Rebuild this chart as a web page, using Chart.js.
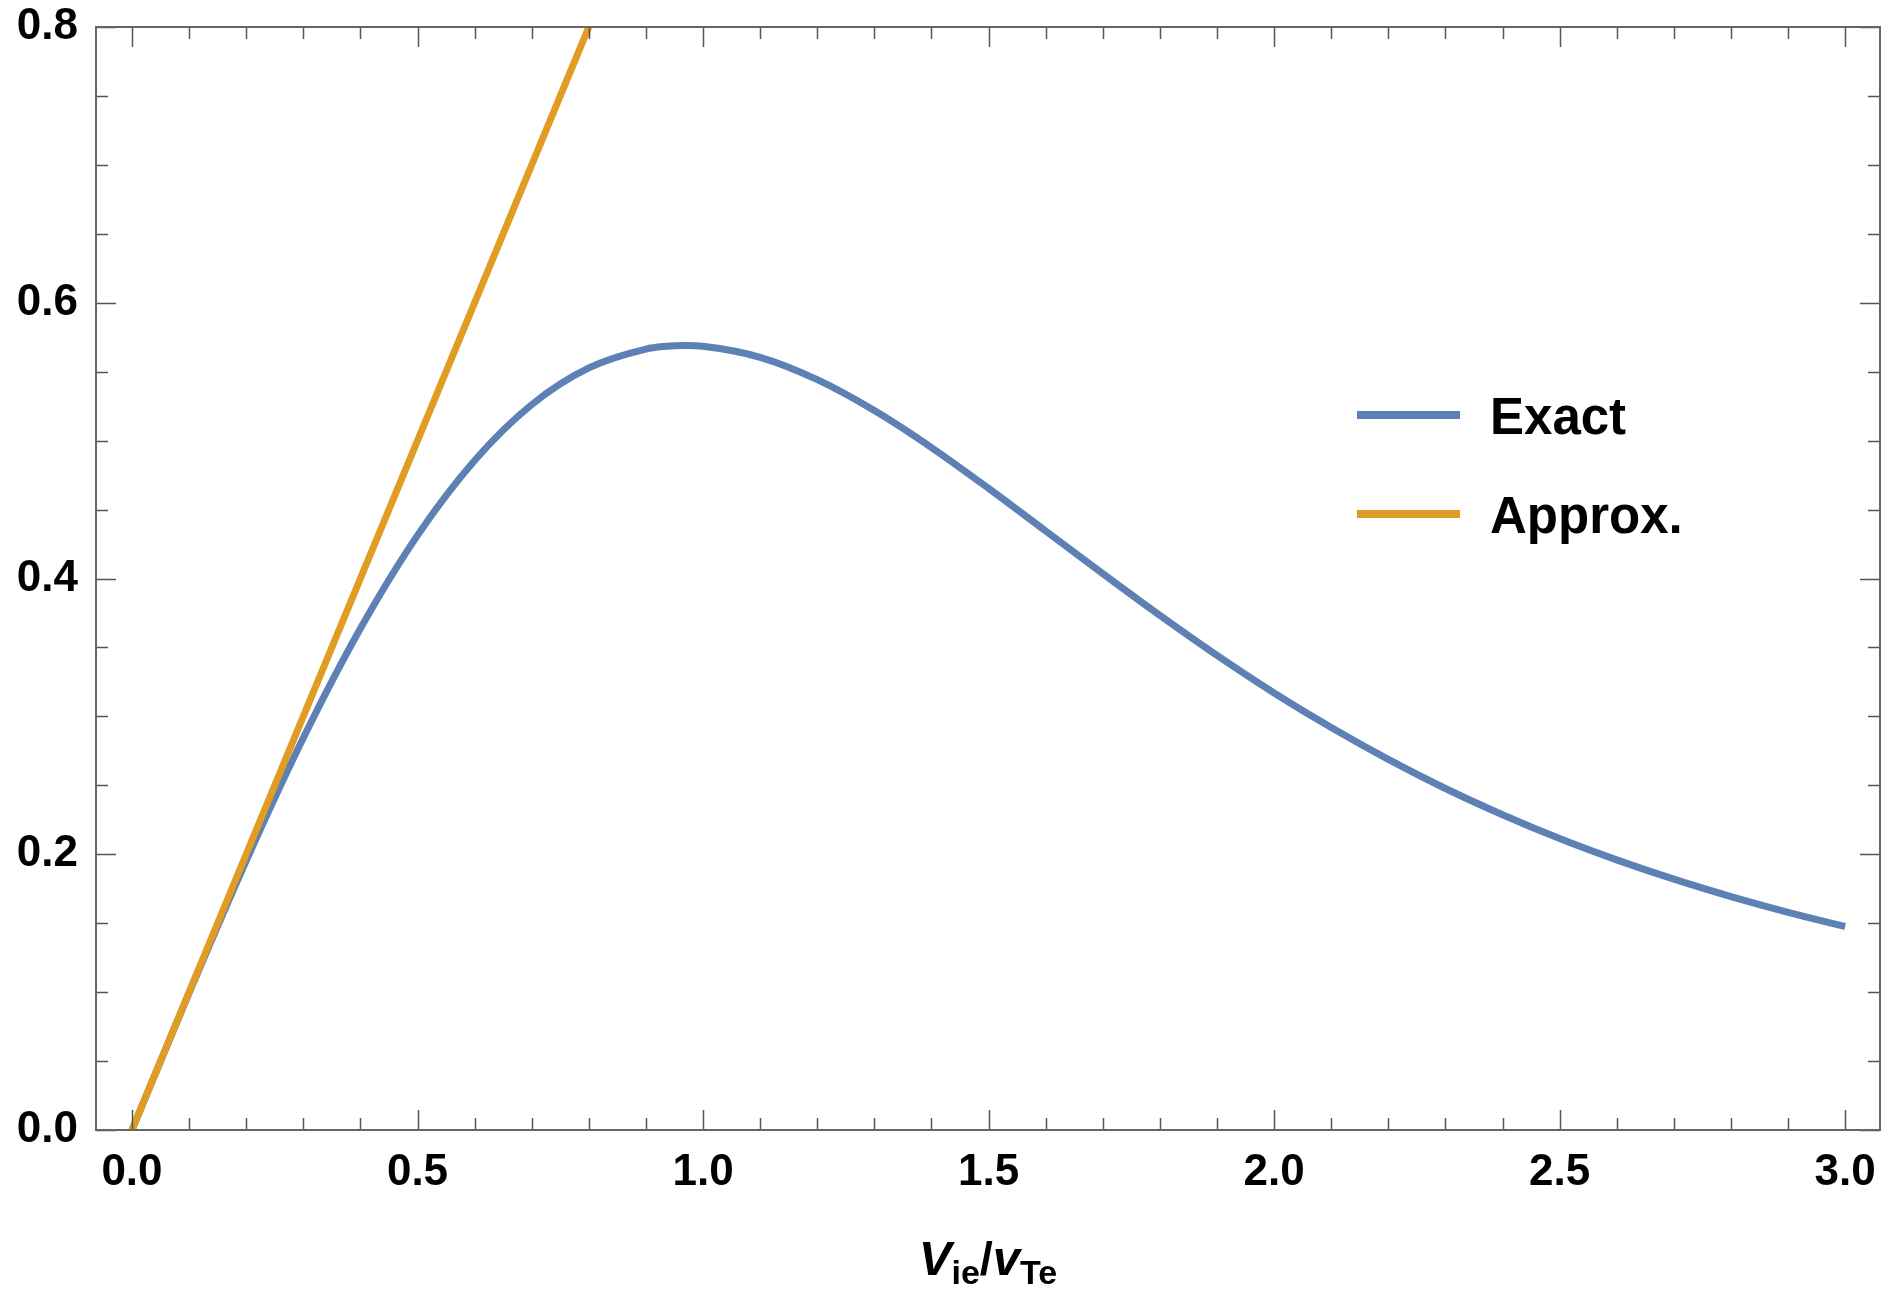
<!DOCTYPE html>
<html>
<head>
<meta charset="utf-8">
<script src="https://cdn.jsdelivr.net/npm/chart.js@4.4.1/dist/chart.umd.min.js"></script>
<style>
  html, body { margin: 0; padding: 0; background: #fff; }
  #wrap { width: 1896px; height: 1289px; }
</style>
</head>
<body>
<div id="wrap"><canvas id="c" width="1896" height="1289"></canvas></div>
<script>
// values
const exactX = [0, 0.1, 0.2, 0.3, 0.4, 0.5, 0.6, 0.7, 0.8, 0.9, 0.93, 0.97, 1.0, 1.1, 1.2, 1.3, 1.4, 1.5,
  1.6, 1.7, 1.8, 1.9, 2.0, 2.1, 2.2, 2.3, 2.4, 2.5, 2.6, 2.7, 2.8, 2.9, 3.0];
const exactY = [0, 0.0994, 0.1953, 0.2843, 0.3637, 0.4313, 0.4856, 0.5261, 0.5527, 0.5664, 0.5682, 0.5690, 0.5684,
  0.5604, 0.5442, 0.5218, 0.4950, 0.4654, 0.4345, 0.4035, 0.3732, 0.3442, 0.3170, 0.2919, 0.2688,
  0.2477, 0.2287, 0.2114, 0.1959, 0.1819, 0.1693, 0.1579, 0.1476];
const approxX = [0, 0.8];
const approxY = [0, 0.8];

const xTicks = [0, 0.5, 1.0, 1.5, 2.0, 2.5, 3.0];
const yTicks = [0, 0.2, 0.4, 0.6, 0.8];
const xMinorStep = 0.1;
const yMinorStep = 0.05;

const labels = ['Exact', 'Approx.'];
const colors = ['#5E81B5', '#E19C24'];

const FONT = '"Liberation Sans", Arial, sans-serif';

// ticks drawn inside the frame on all four sides
const frameTicks = {
  id: 'frameTicks',
  afterDatasetsDraw(chart) {
    const ctx = chart.ctx;
    const a = chart.chartArea;
    const xs = chart.scales.x, ys = chart.scales.y;
    ctx.save();
    ctx.lineWidth = 1.5;
    ctx.strokeStyle = '#555';
    ctx.beginPath();
    for (let i = 0; i <= 30; i++) {
      const v = i * xMinorStep;
      const px = Math.round(xs.getPixelForValue(v)) + 0.5;
      const len = (i % 5 === 0) ? 20 : 12;
      ctx.moveTo(px, a.bottom); ctx.lineTo(px, a.bottom - len);
      ctx.moveTo(px, a.top); ctx.lineTo(px, a.top + len);
    }
    for (let i = 0; i <= 16; i++) {
      const v = i * yMinorStep;
      const py = Math.round(ys.getPixelForValue(v)) + 0.5;
      const len = (i % 4 === 0) ? 20 : 12;
      ctx.moveTo(a.left, py); ctx.lineTo(a.left + len, py);
      ctx.moveTo(a.right, py); ctx.lineTo(a.right - len, py);
    }
    ctx.stroke();
    ctx.strokeStyle = '#666';
    ctx.lineWidth = 2;
    ctx.strokeRect(a.left, a.top, a.right - a.left, a.bottom - a.top);
    ctx.restore();
  }
};

// legend inside the plot
const insideLegend = {
  id: 'insideLegend',
  afterDraw(chart) {
    const ctx = chart.ctx;
    ctx.save();
    chart.data.datasets.forEach((ds, i) => {
      const y = 415 + i * 99;
      ctx.strokeStyle = ds.borderColor;
      ctx.lineWidth = 8;
      ctx.beginPath();
      ctx.moveTo(1357, y); ctx.lineTo(1460, y);
      ctx.stroke();
      ctx.fillStyle = '#000';
      ctx.font = 'bold 51px ' + FONT;
      ctx.textBaseline = 'alphabetic';
      ctx.fillText(ds.label, 1490, y + 19);
    });
    ctx.restore();
  }
};

// x axis title with subscripts: V_ie / v_Te
const axisTitle = {
  id: 'axisTitle',
  afterDraw(chart) {
    const ctx = chart.ctx;
    const parts = [
      { t: 'V', f: 'italic bold 49px ' + FONT, dy: 0 },
      { t: 'ie', f: 'bold 34px ' + FONT, dy: 9 },
      { t: '/', f: 'bold 47px ' + FONT, dy: 0 },
      { t: 'v', f: 'italic bold 49px ' + FONT, dy: 0 },
      { t: 'Te', f: 'bold 34px ' + FONT, dy: 9 }
    ];
    ctx.save();
    let w = 0;
    parts.forEach(p => { ctx.font = p.f; p.w = ctx.measureText(p.t).width; w += p.w; });
    const cx = 988;
    let x = cx - w / 2;
    const base = 1275;
    ctx.fillStyle = '#000';
    ctx.textBaseline = 'alphabetic';
    parts.forEach(p => { ctx.font = p.f; ctx.fillText(p.t, x, base + p.dy); x += p.w; });
    ctx.restore();
  }
};

const ctx = document.getElementById('c').getContext('2d');
new Chart(ctx, {
  type: 'line',
  data: {
    datasets: [
      {
        label: labels[0],
        data: exactX.map((x, i) => ({ x: x, y: exactY[i] })),
        borderColor: colors[0],
        borderWidth: 7,
        pointRadius: 0,
        cubicInterpolationMode: 'monotone',
        fill: false,
        clip: false,
        order: 1
      },
      {
        label: labels[1],
        data: approxX.map((x, i) => ({ x: x, y: approxY[i] })),
        borderColor: colors[1],
        borderWidth: 7,
        pointRadius: 0,
        fill: false,
        clip: false,
        order: 0
      }
    ]
  },
  options: {
    responsive: false,
    animation: false,
    layout: { padding: { top: 27, right: 16, bottom: 0, left: 0 } },
    plugins: { legend: { display: false }, tooltip: { enabled: false } },
    scales: {
      x: {
        type: 'linear',
        min: -0.063,
        max: 3.061,
        grid: { display: false, drawTicks: false },
        border: { display: false },
        afterBuildTicks: s => { s.ticks = xTicks.map(v => ({ value: v })); },
        afterFit: s => { s.height = 159; s.paddingLeft = 0; s.paddingRight = 0; },
        ticks: {
          padding: 16,
          maxRotation: 0,
          autoSkip: false,
          color: '#000',
          font: { family: FONT, size: 44, weight: 'bold' },
          callback: v => v.toFixed(1)
        }
      },
      y: {
        type: 'linear',
        min: 0,
        max: 0.8,
        grid: { display: false, drawTicks: false },
        border: { display: false },
        afterBuildTicks: s => { s.ticks = yTicks.map(v => ({ value: v })); },
        afterFit: s => { s.width = 96; s.paddingTop = 0; s.paddingBottom = 0; },
        ticks: {
          padding: 18,
          autoSkip: false,
          color: '#000',
          font: { family: FONT, size: 44, weight: 'bold' },
          callback: v => v.toFixed(1)
        }
      }
    }
  },
  plugins: [frameTicks, insideLegend, axisTitle]
});
</script>
</body>
</html>
